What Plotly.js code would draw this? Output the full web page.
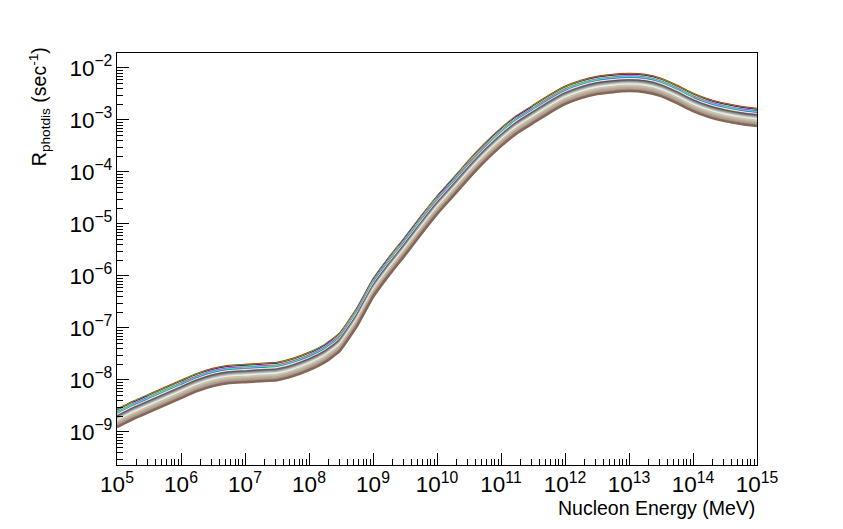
<!DOCTYPE html>
<html><head><meta charset="utf-8">
<script src="https://cdn.plot.ly/plotly-3.0.1.min.js"></script>
<style>body{margin:0;background:#fff}</style></head>
<body><div id="chart" style="width:843px;height:529px"></div>
<script>
// Nucleon energy (MeV) sample points
const energyMeV = [1e5, 1.78e5, 3.16e5, 5.62e5, 1e6, 1.78e6, 3.16e6, 5.62e6, 1e7, 1.78e7, 3.16e7, 5.62e7, 1e8, 1.78e8, 3.0e8, 5.62e8, 1e9, 1.78e9, 3.16e9, 5.62e9, 1e10, 1.78e10, 3.16e10, 5.62e10, 1e11, 1.78e11, 3.16e11, 5.62e11, 1e12, 1.78e12, 3.16e12, 5.62e12, 1e13, 1.78e13, 3.16e13, 5.62e13, 1e14, 1.78e14, 3.16e14, 5.62e14, 1e15];
// Photodisintegration rate of the uppermost curve (sec^-1)
const rateTop = [2.65e-9, 3.78e-9, 5.15e-9, 7.02e-9, 9.57e-9, 1.30e-8, 1.63e-8, 1.86e-8, 1.94e-8, 2.03e-8, 2.12e-8, 2.53e-8, 3.30e-8, 4.71e-8, 7.67e-8, 2.32e-7, 8.38e-7, 2.22e-6, 5.38e-6, 1.36e-5, 3.31e-5, 7.33e-5, 1.63e-4, 3.45e-4, 6.71e-4, 1.19e-3, 1.86e-3, 2.90e-3, 4.31e-3, 5.62e-3, 6.71e-3, 7.33e-3, 7.67e-3, 7.33e-3, 6.14e-3, 4.51e-3, 3.16e-3, 2.43e-3, 2.03e-3, 1.78e-3, 1.63e-3];
// Relative level of each curve in the family (top to bottom)
const seriesScale = [1.000, 0.971, 0.943, 0.916, 0.890, 0.864, 0.839, 0.815, 0.791, 0.769, 0.746, 0.725, 0.704, 0.684, 0.664, 0.645, 0.626, 0.608, 0.591, 0.574, 0.557, 0.541, 0.526, 0.511, 0.496, 0.482, 0.468];
// Curve colours (ROOT colour indices 2..28)
const seriesColors = ['#ff0000','#00ff00','#0000ff','#ffff00','#ff00ff','#00ffff','#59d454','#5954d9','#fefefe','#c0b6ac','#4c4c4c','#666666','#7f7f7f','#999999','#b2b2b2','#cccccc','#e5e5e5','#f2f2f2','#ccc6aa','#ccc6aa','#c1bfa8','#bab5a3','#b2a596','#b7a39b','#ad998c','#9b8e82','#876656'];

const traces = seriesScale.map((s, i) => ({
  x: energyMeV,
  y: rateTop.map(v => v * s),
  type: 'scatter', mode: 'lines',
  line: {color: seriesColors[i], width: 2.5, shape: 'spline', smoothing: 0.4},
  hoverinfo: 'skip', showlegend: false
}));

const font = {family: 'Liberation Sans, Arial, sans-serif', color: '#000'};
const axisCommon = {
  type: 'log', dtick: 1, exponentformat: 'power', showgrid: false, zeroline: false,
  showline: true, mirror: true, linecolor: '#000', linewidth: 1,
  ticks: 'inside', ticklen: 12, tickcolor: '#000', tickwidth: 1,
  minor: {ticks: 'inside', ticklen: 6, tickcolor: '#000', tickwidth: 1, dtick: 'D1', showgrid: false},
  tickfont: Object.assign({size: 18}, font)
};
const layout = {
  width: 843, height: 529,
  margin: {l: 117, r: 86, t: 53, b: 64},
  paper_bgcolor: '#fff', plot_bgcolor: '#fff',
  xaxis: Object.assign({}, axisCommon, {range: [5, 15]}),
  yaxis: Object.assign({}, axisCommon, {range: [-9.635, -1.712]}),
  annotations: [
    {text: 'Nucleon Energy (MeV)', xref: 'paper', yref: 'paper', x: 1, y: -0.104,
     xanchor: 'right', yanchor: 'middle', showarrow: false, font: Object.assign({size: 19.5}, font)},
    {text: 'R<sub>photdis</sub> (sec<sup>-1</sup>)', xref: 'paper', yref: 'paper', x: -0.122, y: 1.02,
     xanchor: 'center', yanchor: 'top', textangle: -90, showarrow: false, font: Object.assign({size: 19.5}, font)}
  ]
};
Plotly.newPlot('chart', traces, layout, {staticPlot: true, displayModeBar: false});
</script></body></html>
